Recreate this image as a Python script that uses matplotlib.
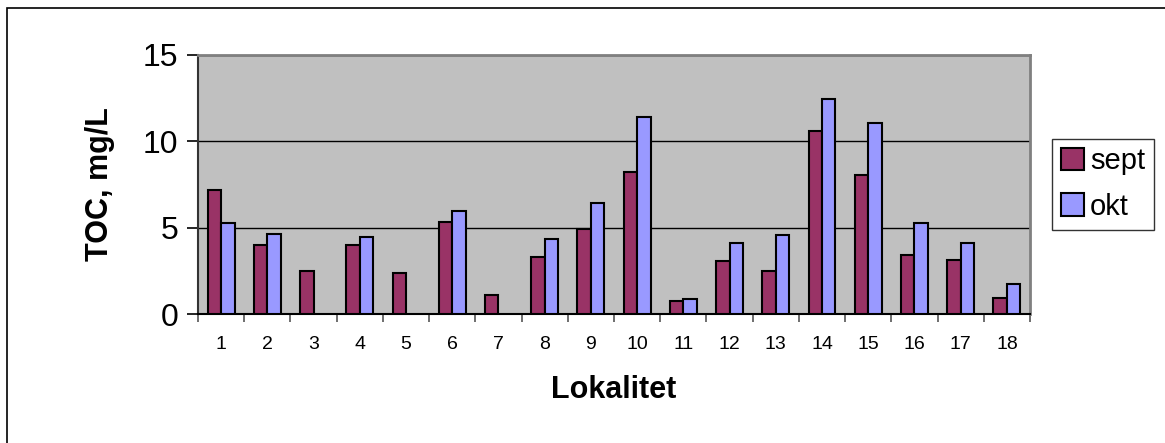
import numpy as np
import matplotlib.pyplot as plt
from matplotlib.patches import Rectangle

plt.rcParams['font.family'] = ['Liberation Sans', 'DejaVu Sans']

# TOC per lokalitet
lokalitet = [str(i) for i in range(1, 19)]
sept = [7.2, 4.0, 2.5, 4.0, 2.35, 5.35, 1.1, 3.3, 4.9, 8.25, 0.75, 3.05, 2.5, 10.6, 8.05, 3.4, 3.15, 0.95]
okt = [5.25, 4.65, 0, 4.45, 0, 5.95, 0, 4.35, 6.4, 11.4, 0.85, 4.1, 4.55, 12.45, 11.05, 5.25, 4.1, 1.75]
yticks = [0, 5, 10, 15]

fig = plt.figure(figsize=(11.65, 4.43), dpi=100)
ax = fig.add_axes([198/1165, 1-314/443, 832/1165, 259/443])

# outer chart border
fig.patches.append(Rectangle((7/1165, -0.1), 1.2, 1-8/443+0.1, transform=fig.transFigure,
                             fill=False, edgecolor='black', linewidth=1.2))

x = np.arange(len(lokalitet))
w = 0.29
okt_plot = [v if v > 0 else np.nan for v in okt]
ax.bar(x - w/2, sept, w, color='#993366', edgecolor='black', linewidth=1.5, label='sept', zorder=3)
ax.bar(x + w/2, okt_plot, w, color='#9999FF', edgecolor='black', linewidth=1.5, label='okt', zorder=3)

ax.set_facecolor('#C0C0C0')
ax.set_xlim(-0.5, len(lokalitet) - 0.5)
ax.set_ylim(0, 15)
ax.set_yticks(yticks)
ax.set_yticklabels([str(t) for t in yticks], fontsize=23)
ax.yaxis.grid(True, color='black', linewidth=1)
ax.set_axisbelow(True)

ax.set_xticks(x)
ax.set_xticklabels(lokalitet, fontsize=14)
ax.set_xticks(np.arange(-0.5, len(lokalitet)), minor=True)
ax.tick_params(axis='x', which='major', length=0, pad=16)
ax.tick_params(axis='x', which='minor', length=6, width=1.2, color='#555555', direction='out')
ax.tick_params(axis='y', length=8, width=1.2, direction='out', pad=6)

for s in ['top', 'right']:
    ax.spines[s].set_color('#808080')
    ax.spines[s].set_linewidth(2)
ax.spines['left'].set_color('#333333')
ax.spines['left'].set_linewidth(1.5)
ax.spines['bottom'].set_color('black')
ax.spines['bottom'].set_linewidth(1.5)

ax.set_ylabel('TOC, mg/L', fontsize=22, fontweight='bold', labelpad=20)
ax.set_xlabel('Lokalitet', fontsize=22, fontweight='bold', labelpad=16)

leg = ax.legend(loc='center left', bbox_to_anchor=(1052/1165, 1-184/443), bbox_transform=fig.transFigure,
                fontsize=21, frameon=True, fancybox=False, edgecolor='black',
                handlelength=0.8, handleheight=0.8, handletextpad=0.2, labelspacing=0.6,
                borderpad=0.3, borderaxespad=0)
leg.get_frame().set_linewidth(1)

fig.savefig('out.png', dpi=100)
